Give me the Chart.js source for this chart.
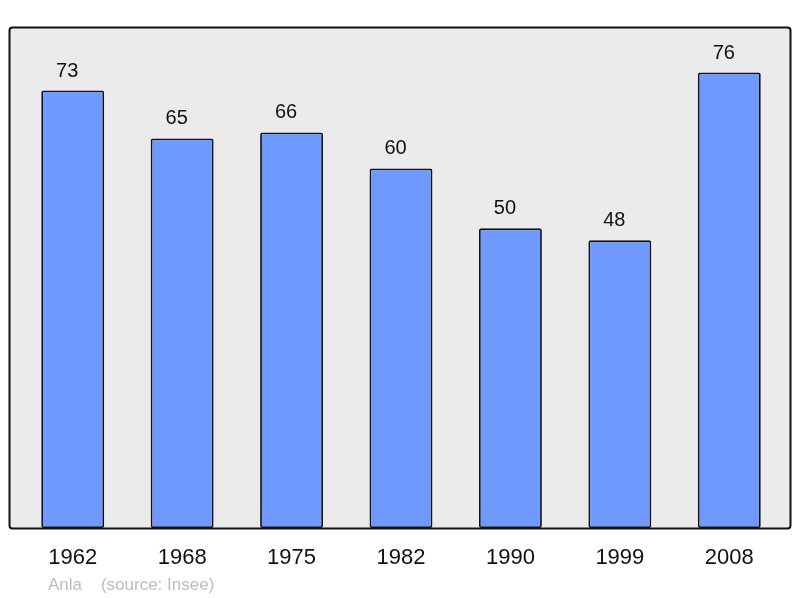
<!DOCTYPE html>
<html><head><meta charset="utf-8">
<script src="https://cdn.jsdelivr.net/npm/chart.js@4"></script>
<style>html,body{margin:0;padding:0;background:#fff}#w{width:800px;height:598px}</style>
</head><body><div id="w"><canvas id="c" width="800" height="598"></canvas></div>
<script>
const years = ["1962","1968","1975","1982","1990","1999","2008"];
const population = [73, 65, 66, 60, 50, 48, 76];
const footerText = "Anla    (source: Insee)";

const F = "'Liberation Sans', Arial, sans-serif";
const boxPlugin = {
  id: 'box',
  beforeDatasetsDraw(chart) {
    const ctx = chart.ctx, a = chart.chartArea;
    ctx.save();
    ctx.beginPath();
    ctx.roundRect(9.5, a.top + 0.5, 781, a.bottom - a.top, 3);
    ctx.fillStyle = '#ebebeb';
    ctx.fill();
    ctx.restore();
  },
  afterDatasetsDraw(chart) {
    const ctx = chart.ctx, a = chart.chartArea;
    ctx.save();
    ctx.beginPath();
    ctx.roundRect(9.5, a.top + 0.5, 781, a.bottom - a.top, 3);
    ctx.lineWidth = 2;
    ctx.strokeStyle = '#111';
    ctx.stroke();
    const meta = chart.getDatasetMeta(0);
    ctx.fillStyle = '#111';
    ctx.font = '20px ' + F;
    ctx.textAlign = 'center';
    ctx.textBaseline = 'alphabetic';
    meta.data.forEach((bar, i) => {
      ctx.fillText(String(chart.data.datasets[0].data[i]), bar.x - 5.5, bar.y - 14);
    });
    ctx.fillStyle = '#bdbdbd';
    ctx.font = '17px ' + F;
    ctx.textAlign = 'left';
    ctx.textBaseline = 'middle';
    ctx.fillText(footerText, 48, 585);
    ctx.restore();
  }
};

new Chart(document.getElementById('c'), {
  type: 'bar',
  data: {
    labels: years,
    datasets: [{
      data: population,
      backgroundColor: '#7099ff',
      borderColor: '#111',
      borderWidth: 1.8,
      borderRadius: 2,
      borderSkipped: false,
      barPercentage: 0.575,
      categoryPercentage: 1
    }]
  },
  options: {
    responsive: false,
    animation: false,
    devicePixelRatio: 1,
    layout: { padding: { left: 18, right: 16, top: 27, bottom: 0 } },
    plugins: { legend: { display: false }, tooltip: { enabled: false } },
    scales: {
      x: {
        grid: { display: false, drawTicks: false },
        border: { display: false },
        ticks: { color: '#111', font: { size: 22, family: F }, padding: 17, maxRotation: 0 },
        afterFit(s) { s.height = 70; }
      },
      y: { display: false, min: 0, max: 83.6 }
    }
  },
  plugins: [boxPlugin]
});
</script></body></html>
